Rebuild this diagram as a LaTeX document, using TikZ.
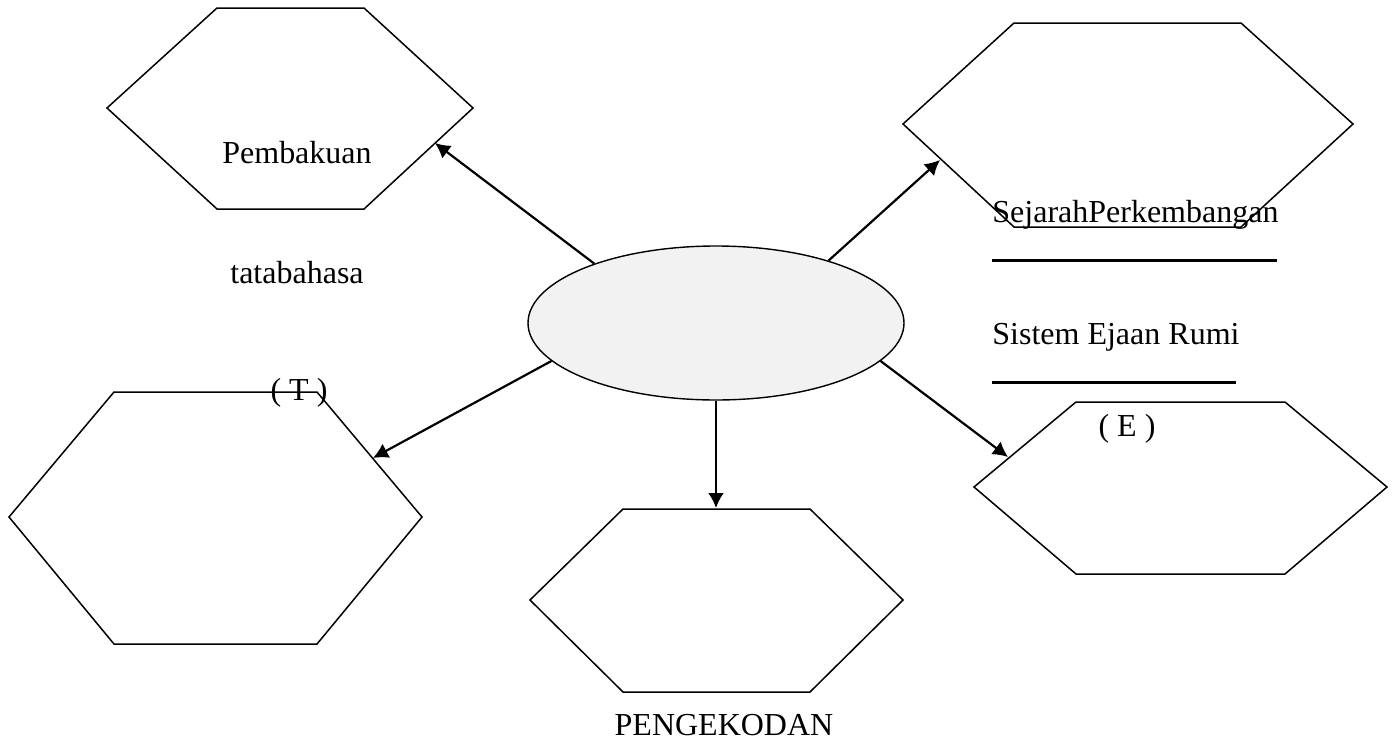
\documentclass[tikz,border=0pt]{standalone}
\usepackage{fontspec}
\setmainfont{Liberation Serif}
\usetikzlibrary{shapes}
\usetikzlibrary{arrows.meta}

\begin{document}
\begin{tikzpicture}[x=0.5pt,y=-0.5pt,
hexa/.style={draw, line width=0.75pt},
link/.style={draw, line width=1.1pt, -{Latex[length=7.5pt,width=8pt]}},
txt/.style={font=\fontsize{16}{19}\selectfont, inner sep=0pt},
rule/.style={draw, line width=1.5pt}]
\useasboundingbox (0,0) rectangle (1398,744);
\path[hexa] (107,108) -- (217,8) -- (364,8) -- (473,108) -- (364,209) -- (217,209) -- cycle;
\path[hexa] (903,124) -- (1014,23) -- (1241,23) -- (1353,124) -- (1241,227) -- (1014,227) -- cycle;
\path[hexa] (9,517) -- (114,392) -- (317,392) -- (422,517) -- (317,644) -- (114,644) -- cycle;
\path[hexa] (530,600) -- (623,509) -- (810,509) -- (903,600) -- (810,692) -- (623,692) -- cycle;
\path[hexa] (974,487) -- (1076,402) -- (1285,402) -- (1387,487) -- (1285,574) -- (1076,574) -- cycle;
\node[ellipse, draw, line width=0.7pt, fill=gray!10, inner sep=0pt, minimum width=188pt, minimum height=77pt] (core) at (716,323) {};
\coordinate (t1) at (435,143);
\coordinate (t2) at (940,160);
\coordinate (t3) at (373,458);
\coordinate (t4) at (716,508);
\coordinate (t5) at (1008,457);
\foreach \a/\t in {154/t1, 29/t2, 193/t3, -90/t4, -13/t5}
  \path[link] (core.\a) -- (\t);
\node[txt] (pemb) at (297,153) {Pembakuan};
\node[txt] (tata) at (297,273) {tatabahasa};
\node[txt] (tee) at (299,393) {( T )};
\node[txt, anchor=west] (sej) at (992,215) {SejarahPerkembangan};
\node[txt, anchor=west] (ejaan) at (992,337) {Sistem Ejaan Rumi};
\node[txt] (ee) at (1127,429) {( E )};
\node[txt] (kod) at (724,725) {PENGEKODAN};
\path[rule] (992,260) -- (1277,260);
\path[rule] (992,382) -- (1236,382);
\end{tikzpicture}
\end{document}
